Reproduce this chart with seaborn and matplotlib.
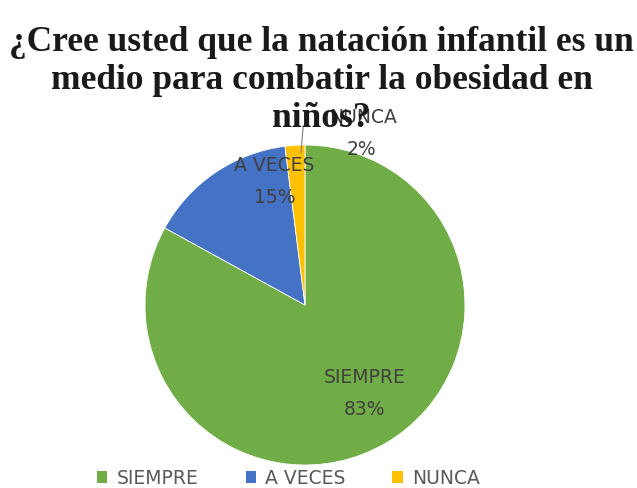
import matplotlib
matplotlib.use("Agg")
import matplotlib.pyplot as plt
import seaborn as sns
import numpy as np
from matplotlib.patches import Patch

categories = ["SIEMPRE", "A VECES", "NUNCA"]
values = [83, 15, 2]
colors = ["#70AD47", "#4472C4", "#FFC000"]
title = "¿Cree usted que la natación infantil es un\nmedio para combatir la obesidad en\nniños?"

sns.set_theme(style="white")
plt.rcParams["font.family"] = ["DejaVu Sans"]

fig = plt.figure(figsize=(6.37, 4.88), dpi=100)
ax = fig.add_axes([0.2276, 0.0471, 0.5024, 0.6557])
wedges, _ = ax.pie(values, colors=sns.color_palette(colors), startangle=90,
                   counterclock=False, radius=1.0,
                   wedgeprops=dict(edgecolor="white", linewidth=0.6))
ax.set_xlim(-1, 1)
ax.set_ylim(-1, 1)
ax.set_aspect("equal")
ax.axis("off")

lbl_color = "#404040"
# label placements (name position, pct position) in radius units
pos = {
    "SIEMPRE": ((0.375, -0.45), (0.375, -0.656)),
    "A VECES": ((-0.19, 0.875), (-0.19, 0.669)),
    "NUNCA": ((0.36, 1.175), (0.35, 0.97)),
}
for cat, v in zip(categories, values):
    (nx, ny), (px, py) = pos[cat]
    ax.text(nx, ny, cat, ha="center", va="center", fontsize=13.5,
            color=lbl_color, clip_on=False, zorder=5)
    ax.text(px, py, f"{v}%", ha="center", va="center", fontsize=13.5,
            color=lbl_color, clip_on=False, zorder=5)

# leader line for NUNCA
ax.plot([-0.025, -0.012], [0.95, 1.11], color="#7f7f7f", lw=0.8, clip_on=False)

fig.text(0.505, 0.947, title, ha="center", va="top", fontsize=25.5,
         fontweight="bold", family=["Liberation Serif", "DejaVu Serif"],
         color="#1a1a1a", linespacing=1.2, zorder=10)

handles = [Patch(facecolor=c, edgecolor="none") for c in colors]
fig.legend(handles, categories, loc="center", bbox_to_anchor=(0.453, 0.02),
           ncol=3, frameon=False, fontsize=13.5, handlelength=0.55, handleheight=0.55,
           handletextpad=0.5, columnspacing=2.5, labelcolor="#595959")

fig.savefig("out.png", dpi=100, facecolor="white")
